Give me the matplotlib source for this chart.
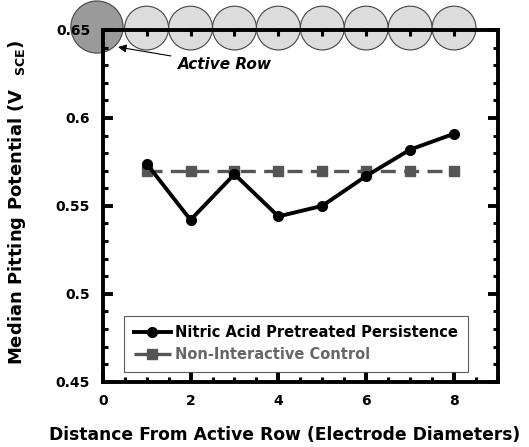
import numpy as np
import matplotlib
matplotlib.use('Agg')
import matplotlib.pyplot as plt
from matplotlib.patches import Ellipse
from matplotlib.ticker import MultipleLocator, FixedLocator

# ================= Plot style =================
plt.rcParams.update({
    'font.family': ['DejaVu Sans'],
    'font.weight': 'bold',
    'axes.labelweight': 'bold',
    'mathtext.fontset': 'custom',
    'mathtext.rm': 'DejaVu Sans:bold',
    'mathtext.bf': 'DejaVu Sans:bold',
    'font.size': 10,
})

# ================= Data =================
distance = [1, 2, 3, 4, 5, 6, 7, 8]
nitric_persistence = [0.574, 0.542, 0.568, 0.544, 0.550, 0.567, 0.582, 0.591]
control = [0.570, 0.570, 0.570, 0.570, 0.570, 0.570, 0.570, 0.570]

# electrode row drawn along the top (centres in electrode diameters)
active_electrode_x = -0.13
passive_electrode_x = [1, 2, 3, 4, 5, 6, 7, 8]

COLOR_1 = 'black'
COLOR_2 = '#555555'

fig = plt.figure(figsize=(5.29, 4.47), dpi=100)
ax = fig.add_axes([102.7 / 529, 1 - 381.7 / 447, 395.3 / 529, 351.7 / 447])

ax.plot(distance, control, color=COLOR_2, lw=2.4, dashes=(4.5, 2.5),
        marker='s', ms=6.5, label='Non-Interactive Control', zorder=3)
ax.plot(distance, nitric_persistence, color=COLOR_1, lw=2.8,
        marker='o', ms=7, label='Nitric Acid Pretreated Persistence', zorder=4)

ax.set_xlim(0, 9)
ax.set_ylim(0.45, 0.65)
ax.xaxis.set_major_locator(FixedLocator([0, 2, 4, 6, 8]))
ax.xaxis.set_minor_locator(MultipleLocator(0.5))
ax.yaxis.set_major_locator(MultipleLocator(0.05))
ax.yaxis.set_minor_locator(MultipleLocator(0.01))
ax.yaxis.set_major_formatter(plt.FuncFormatter(lambda v, p: f'{v:g}'))

ax.tick_params(which='both', direction='in', left=True, right=True,
               bottom=True, top=False, labelsize=10)
ax.tick_params(which='major', length=7, width=2.8, pad=9)
ax.tick_params(which='minor', length=3.5, width=2.2)
for s in ax.spines.values():
    s.set_linewidth(2.8)

# top axis ticks at each electrode
top = ax.secondary_xaxis('top')
top.set_xticks(passive_electrode_x)
top.tick_params(direction='in', length=4, width=2.2, labeltop=False)
top.spines['top'].set_visible(False)
top.set_zorder(3)

# electrode circles
unit_h = 0.0249
ax.add_patch(Ellipse((active_electrode_x, 0.6517), 1.19, 1.19 * unit_h,
                     facecolor='#9a9a9a', edgecolor='#444444', lw=0.8,
                     clip_on=False, zorder=1))
for cx in passive_electrode_x:
    ax.add_patch(Ellipse((cx, 0.6511), 1.0, unit_h,
                         facecolor='#dcdcdc', edgecolor='#444444', lw=0.8,
                         clip_on=False, zorder=1))

ax.annotate('Active Row', xy=(0.35, 0.6403), xytext=(2.78, 0.6301),
            ha='center', va='center', fontsize=11, fontstyle='italic',
            fontweight='bold',
            arrowprops=dict(arrowstyle='-|>', color='black', lw=0.8,
                            mutation_scale=12, shrinkA=3, shrinkB=0))

ax.set_xlabel('Distance From Active Row (Electrode Diameters)', fontsize=12.3)
ax.xaxis.set_label_coords(0.459, -0.125)
ax.set_ylabel(r'Median Pitting Potential (V$_{\mathbf{\ \ \ SCE}}$)', fontsize=13)
ax.yaxis.set_label_coords(-0.19, 0.51)

handles, labels = ax.get_legend_handles_labels()
leg = ax.legend(handles[::-1], labels[::-1], loc='lower left',
                bbox_to_anchor=(0.0546, 0.028), borderaxespad=0,
                fontsize=10.5, frameon=True, fancybox=False, handlelength=2.55,
                handletextpad=0.3, labelspacing=0.5, borderpad=0.65)
leg.get_frame().set_edgecolor('#333333')
leg.get_frame().set_linewidth(0.8)
leg.get_texts()[1].set_color('#666666')

fig.savefig('out.png', dpi=100)
